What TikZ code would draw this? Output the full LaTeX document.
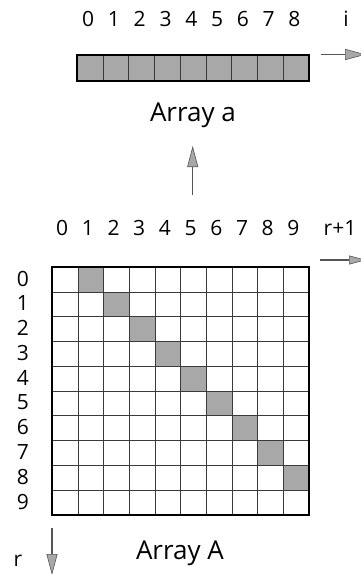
\documentclass[tikz,border=0pt]{standalone}
\usepackage{fontspec}
\setmainfont{Open Sans}
\usepackage{tikz}
\usetikzlibrary{arrows.meta,calc}
\definecolor{cellgray}{HTML}{A8A8A8}
\definecolor{gridline}{HTML}{3A3A3A}
\definecolor{arrowgray}{HTML}{555555}
\tikzset{
  idx/.style={font=\fontsize{21}{24}\selectfont,inner sep=0pt},
  caption/.style={font=\fontsize{26}{30}\selectfont,inner sep=0pt},
  frame/.style={draw=black,line width=2pt},
  inner/.style={draw=gridline,line width=1pt},
  flow/.style={draw=arrowgray,line width=1.1pt,
    -{Triangle[length=21pt,width=11pt,fill=cellgray,line width=0.6pt]}},
  flowsmall/.style={flow,-{Triangle[length=17pt,width=9pt,fill=cellgray,line width=0.6pt]}}
}
\begin{document}
\begin{tikzpicture}[x=1pt,y=-1pt]
  \useasboundingbox (0,0) rectangle (361,574);
  % Array a
  \def\aw{25.78}
  \foreach \i in {0,...,8}{
    \fill[cellgray] ({77.3+\i*\aw},54.5) rectangle ++(\aw,26);
    \node[idx] (ai\i) at ({77.3+(\i+0.5)*\aw-2},19) {\i};
  }
  \foreach \i in {1,...,8}
    \draw[inner] ({77.3+\i*\aw},54.5) -- ++(0,26);
  \draw[frame] (77.3,54.5) rectangle (309.3,80.5);
  \node[idx] (ilabel) at (346,19) {i};
  \node[caption] (acap) at (193,115) {Array a};

  % Array A
  \def\cw{25.7}
  \def\ch{24.77}
  \foreach \r in {0,...,8}
    \fill[cellgray] ({52.3+(\r+1)*\cw},{267.3+\r*\ch}) rectangle ++(\cw,\ch);
  \foreach \i in {1,...,9}{
    \draw[inner] ({52.3+\i*\cw},267.3) -- ++(0,247.7);
    \draw[inner] (52.3,{267.3+\i*\ch}) -- ++(257,0);
  }
  \draw[frame] (52.3,267.3) rectangle (309.3,515);
  \foreach \i in {0,...,9}{
    \node[idx] (col\i) at ({52.3+(\i+0.5)*\cw-3},228) {\i};
    \node[idx] (row\i) at (23,{267.3+(\i+0.5)*\ch-1}) {\i};
  }
  \node[idx] (rplus) at (340,228) {r+1};
  \node[idx] (rlabel) at (18,561) {r};
  \node[caption] (bigcap) at (180,553) {Array A};

  % axis arrows
  \coordinate (iarrA) at (321,54.5);
  \coordinate (iarrB) at (366,54.5);
  \coordinate (uparrA) at (192.7,195);
  \coordinate (uparrB) at (192.7,146);
  \coordinate (rarrA) at (320,260);
  \coordinate (rarrB) at (366,260);
  \coordinate (darrA) at (52,528);
  \coordinate (darrB) at (52,575);
  \draw[flow] (iarrA) -- (iarrB);
  \draw[flow] (uparrA) -- (uparrB);
  \draw[flowsmall] (rarrA) -- (rarrB);
  \draw[flow] (darrA) -- (darrB);
\end{tikzpicture}
\end{document}
